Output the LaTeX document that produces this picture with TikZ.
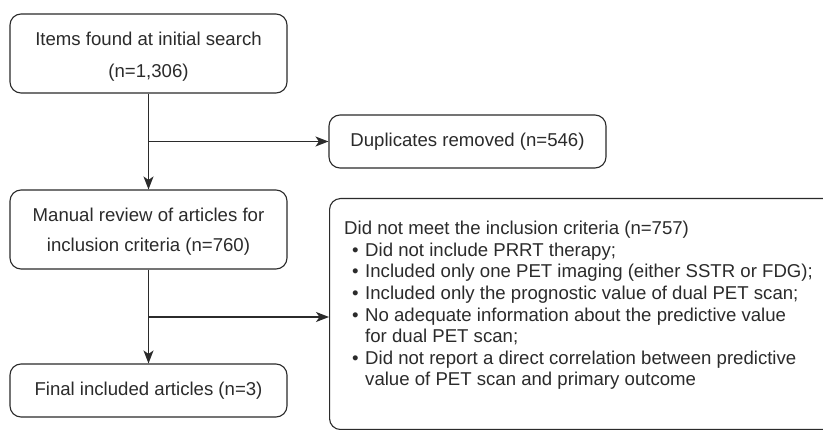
\documentclass[tikz,border=0pt]{standalone}
\usepackage{fontspec}
\setmainfont{Liberation Sans}
\usetikzlibrary{arrows.meta}
\definecolor{ink}{HTML}{2B2B2B}
\begin{document}
\begin{tikzpicture}[x=1pt,y=-1pt,
  box/.style={draw=ink, line width=1.1pt, rounded corners=11pt, minimum width=277pt, text=ink, font=\fontsize{18.6}{30}\selectfont, align=center, inner sep=0pt},
  conn/.style={draw=ink, line width=1.1pt, -{Stealth[length=13pt,width=10pt,inset=3.5pt]}}]
\clip (0,0) rectangle (823,430);
\fill[white] (0,0) rectangle (823,430);
\node[box, minimum height=79pt, font=\fontsize{18.6}{32}\selectfont] (items) at (148.5,53.5) {\rule{0pt}{19.5pt}Items found at initial search\\(n=1,306)};
\node[box, minimum height=53pt] (dup) at (467.5,141.5) {Duplicates removed (n=546)};
\node[box, minimum height=79pt, font=\fontsize{18.6}{30}\selectfont] (manual) at (148.5,229.5) {\rule{0pt}{17.5pt}Manual review of articles for\\inclusion criteria (n=760)};
\node[box, minimum height=53pt] (final) at (148.5,390.5) {Final included articles (n=3)};
\node[box, minimum width=520pt, minimum height=231pt, anchor=north west] (excl) at (329,198) {};
\newcommand{\blt}{\hspace*{8pt}\textbullet\hspace{6.5pt}}
\newcommand{\nblt}{\hspace*{8pt}\phantom{\textbullet}\hspace{6.5pt}}
\node[anchor=north west, text=ink, align=left, inner sep=0pt, font=\fontsize{18.6}{21.6}\selectfont] (excltext) at (344,221)
 {Did not meet the inclusion criteria (n=757)\\
  \blt Did not include PRRT therapy;\\
  \blt Included only one PET imaging (either SSTR or FDG);\\
  \blt Included only the prognostic value of dual PET scan;\\
  \blt No adequate information about the predictive value\\
  \nblt for dual PET scan;\\
  \blt Did not report a direct correlation between predictive\\
  \nblt value of PET scan and primary outcome};
\coordinate (j1) at (items.south |- dup.west);
\coordinate (j2) at (manual.south |- 0,317);
\draw[conn] (items.south) -- (manual.north);
\draw[conn] (j1) -- (dup.west);
\draw[conn] (manual.south) -- (final.north);
\draw[conn] (j2) -- (j2 -| excl.west);
\end{tikzpicture}
\end{document}
